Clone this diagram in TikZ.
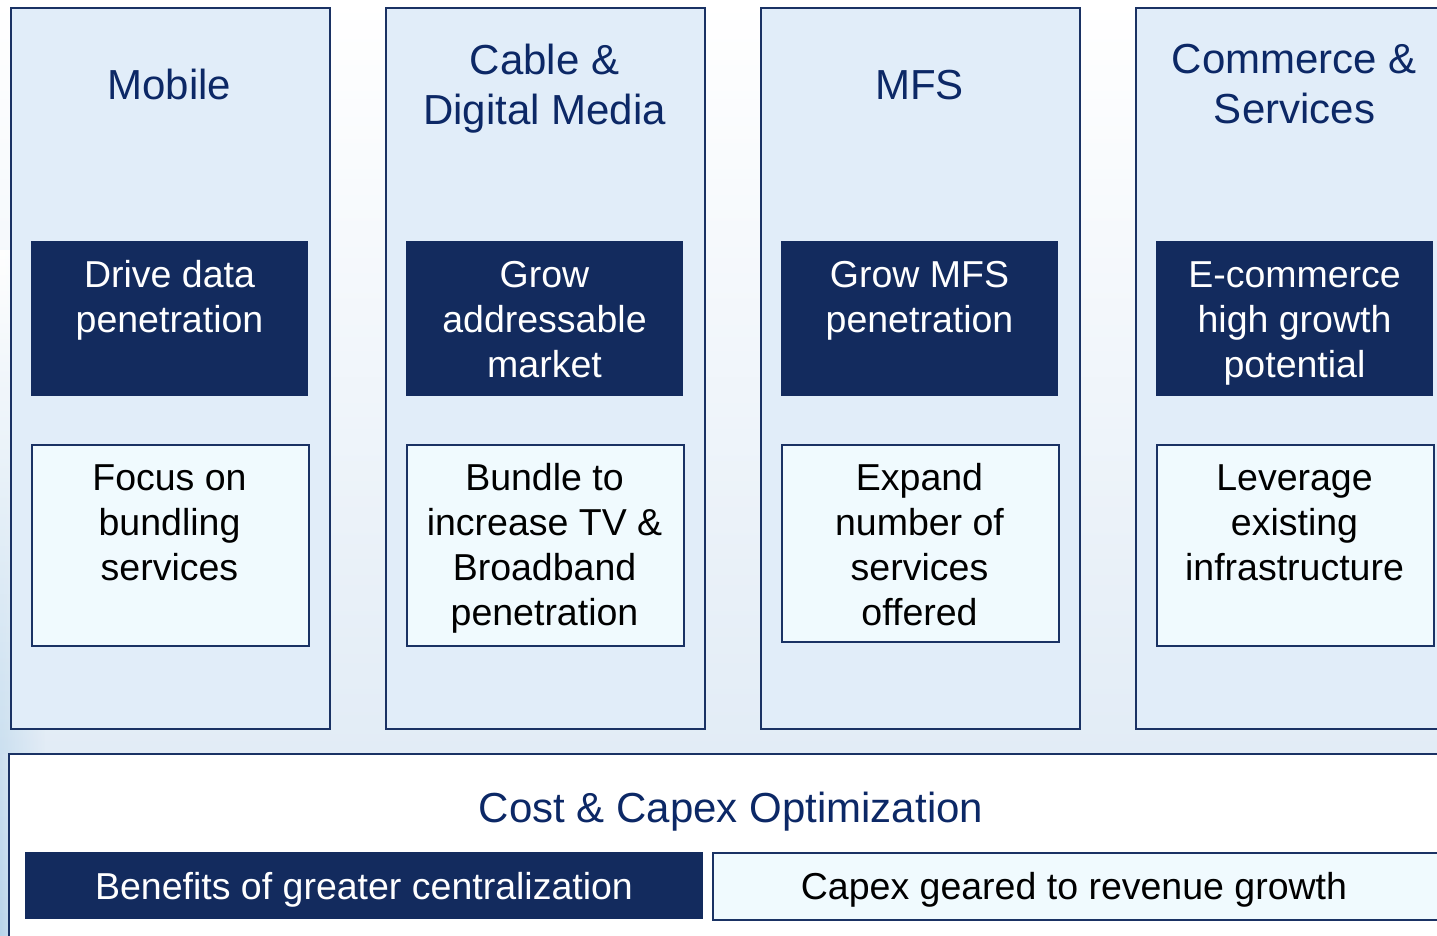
\documentclass[tikz,border=0pt]{standalone}
\usepackage{fontspec}
\setmainfont{Liberation Sans}
\usetikzlibrary{fadings}
\definecolor{navy}{RGB}{19,43,94}
\definecolor{edge}{RGB}{26,50,100}
\definecolor{colfill}{RGB}{225,237,249}
\definecolor{litefill}{RGB}{240,250,254}
\definecolor{titlecol}{RGB}{12,40,102}
\definecolor{bgblue}{RGB}{226,236,246}
\definecolor{bgleft}{RGB}{184,212,234}
\tikzset{
  colbox/.style={draw=edge, line width=2pt, fill=colfill, anchor=north west, inner sep=0pt, minimum width=319pt, minimum height=721pt},
  darkbox/.style={fill=navy, anchor=north west, inner sep=0pt, minimum width=277pt, minimum height=155pt},
  litebox/.style={draw=edge, line width=2pt, fill=litefill, anchor=north west, inner sep=0pt, minimum width=277pt},
  titletxt/.style={text=titlecol, align=center, anchor=base, inner sep=0pt, font=\fontsize{42}{50}\selectfont},
  darktxt/.style={text=white, align=center, anchor=base, inner sep=0pt, font=\fontsize{37.5}{45}\selectfont},
  litetxt/.style={text=black, align=center, anchor=base, inner sep=0pt, font=\fontsize{37.5}{45}\selectfont},
}
\begin{document}
\begin{tikzpicture}[x=1pt,y=-1pt]
\useasboundingbox (0,0) rectangle (1437,936);
\clip (0,0) rectangle (1437,936);
% background
\fill[white] (0,0) rectangle (1437,936);
\shade[top color=white, bottom color=bgblue] (0,0) rectangle (1437,753);
\shade[top color=white, bottom color=bgleft, path fading=east] (0,250) rectangle (45,936);
% columns
\foreach \i/\lh in {0/201,1/201,2/197,3/201}{
  \node[colbox] (col\i) at ({10+375*\i},7) {};
  \node[darkbox] (dk\i) at ({31+375*\i},241) {};
  \node[litebox, minimum height=\lh pt] (lt\i) at ({31+375*\i},444) {};
}
% titles (anchor = baseline of last line)
\node[titletxt] (t0) at (169.5,100) {Mobile};
\node[titletxt] (t1) at (544.5,125) {Cable \&\\Digital Media};
\node[titletxt] (t2) at (919.5,100) {MFS};
\node[titletxt] (t3) at (1294.5,124) {Commerce \&\\Services};
% dark texts
\node[darktxt] (d0) at (169.5,332) {Drive data\\penetration};
\node[darktxt] (d1) at (544.5,377) {Grow\\addressable\\market};
\node[darktxt] (d2) at (919.5,332) {Grow MFS\\penetration};
\node[darktxt] (d3) at (1294.5,377) {E-commerce\\high growth\\potential};
% light texts
\node[litetxt] (l0) at (169.5,580) {Focus on\\bundling\\services};
\node[litetxt] (l1) at (544.5,625) {Bundle to\\increase TV \&\\Broadband\\penetration};
\node[litetxt] (l2) at (919.5,625) {Expand\\number of\\services\\offered};
\node[litetxt] (l3) at (1294.5,580) {Leverage\\existing\\infrastructure};
% bottom
\node[draw=edge, line width=2pt, fill=white, anchor=north west, inner sep=0pt, minimum width=1460pt, minimum height=220pt] (bot) at (8,753) {};
\node[titletxt] (bt) at (731,822) {Cost \& Capex Optimization};
\node[fill=navy, anchor=north west, inner sep=0pt, minimum width=678pt, minimum height=67pt] (bd) at (25,852) {};
\node[draw=edge, line width=2pt, fill=litefill, anchor=north west, inner sep=0pt, minimum width=760pt, minimum height=67pt] (bl) at (712,852) {};
\node[darktxt] (bdt) at (364,899) {Benefits of greater centralization};
\node[litetxt] (blt) at (1074,899) {Capex geared to revenue growth};
\end{tikzpicture}
\end{document}
